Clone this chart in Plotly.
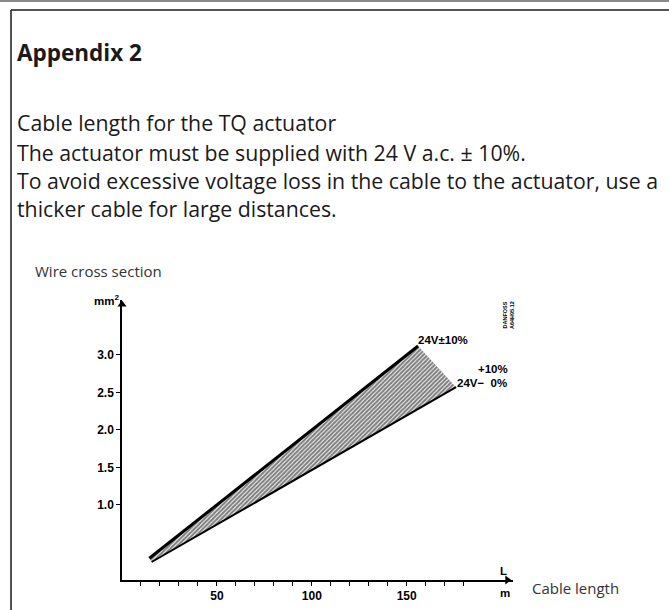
import plotly.graph_objects as go

W, H = 669, 610

# ---- data ----
upper_L = [14.4, 156.0]        # 24V ±10 %
upper_mm2 = [0.29, 3.12]
lower_L = [15.6, 176.0]        # 24V +10 % / -0 %
lower_mm2 = [0.24, 2.57]

x_minor_ticks = list(range(10, 190, 10))
x_tick_labels = {50: "50", 100: "100", 150: "150"}
y_ticks = [1.0, 1.5, 2.0, 2.5, 3.0]
y_tick_labels = ["1.0", "1.5", "2.0", "2.5", "3.0"]

X_MAX = 206.0
Y_MAX = 3.733


def px(x):
    return x / W


def py(y):
    return 1 - y / H


fig = go.Figure()

# hatched band between the two limit lines
band_x = upper_L + lower_L[::-1] + [upper_L[0]]
band_y = upper_mm2 + lower_mm2[::-1] + [upper_mm2[0]]
fig.add_trace(go.Scatter(
    x=band_x, y=band_y, mode="lines", fill="toself",
    line=dict(width=0, color="rgba(0,0,0,0)"),
    fillcolor="white",
    fillpattern=dict(shape="/", fgcolor="black", bgcolor="white", size=3, solidity=0.7),
    hoverinfo="skip", showlegend=False))

fig.add_trace(go.Scatter(x=upper_L, y=upper_mm2, mode="lines",
                         line=dict(color="black", width=3), showlegend=False))
fig.add_trace(go.Scatter(x=lower_L, y=lower_mm2, mode="lines",
                         line=dict(color="black", width=2), showlegend=False))

# axis arrowheads
fig.add_trace(go.Scatter(x=[0], y=[Y_MAX - 0.06], mode="markers", cliponaxis=False,
                         marker=dict(symbol="triangle-up", size=8, color="black"),
                         showlegend=False, hoverinfo="skip"))
fig.add_trace(go.Scatter(x=[X_MAX - 3], y=[0], mode="markers", cliponaxis=False,
                         marker=dict(symbol="triangle-right", size=8, color="black"),
                         showlegend=False, hoverinfo="skip"))

tick_font = dict(family="Liberation Sans, Arial", size=12, color="black", weight="bold")

fig.update_xaxes(
    domain=[px(122), px(513)], range=[0, X_MAX],
    showline=True, linecolor="black", linewidth=1.5,
    showgrid=False, zeroline=False,
    tickmode="array", tickvals=x_minor_ticks,
    ticktext=[x_tick_labels.get(v, "") for v in x_minor_ticks],
    ticks="outside", ticklen=4, tickwidth=1, tickcolor="black",
    tickfont=tick_font, fixedrange=True)
fig.update_yaxes(
    domain=[py(580), py(300)], range=[0, Y_MAX],
    showline=True, linecolor="black", linewidth=1.5,
    showgrid=False, zeroline=False,
    tickmode="array", tickvals=y_ticks, ticktext=y_tick_labels,
    ticks="outside", ticklen=4, tickwidth=1, tickcolor="black",
    tickfont=tick_font, fixedrange=True)

body_font = dict(family="Open Sans, sans-serif", size=21.3, color="#1a1a1a")
anns = []


def txt(x, y, text, font, xanchor="left", yanchor="middle", textangle=0):
    anns.append(dict(x=px(x), y=py(y), xref="paper", yref="paper", text=text,
                     showarrow=False, xanchor=xanchor, yanchor=yanchor,
                     font=font, textangle=textangle))


txt(15, 52, "<b>Appendix 2</b>", dict(family="Open Sans, sans-serif", size=22.5, color="#1a1a1a"))
txt(15, 123, "Cable length for the TQ actuator", body_font)
txt(15, 152, "The actuator must be supplied with 24 V a.c. ± 10%.", body_font)
txt(15, 181, "To avoid excessive voltage loss in the cable to the actuator, use a", body_font)
txt(15, 209, "thicker cable for large distances.", body_font)

small_font = dict(family="Open Sans, sans-serif", size=15, color="#333")
txt(33, 271, "Wire cross section", small_font)
txt(530, 588, "Cable length", small_font)

lab_font = dict(family="Liberation Sans, Arial", size=11.5, color="black", weight="bold")
txt(121, 300, "mm<sup>2</sup>", lab_font, xanchor="right")
txt(503, 571, "L", lab_font, xanchor="center")
txt(505, 593, "m", lab_font, xanchor="center")
txt(416, 340, "24V±10%", lab_font)
txt(510, 369, "+10%", lab_font, xanchor="right")
txt(455, 383, "24V−  0%", lab_font)
txt(508, 315, "DANFOSS<br>A64H95.12",
    dict(family="Liberation Sans, Arial", size=5.5, color="black", weight="bold"),
    xanchor="center", textangle=-90)

fig.update_layout(
    width=W, height=H, margin=dict(l=0, r=0, t=0, b=0),
    paper_bgcolor="white", plot_bgcolor="white",
    annotations=anns, showlegend=False,
    shapes=[
        dict(type="line", xref="paper", yref="paper", x0=0, x1=1, y0=py(1), y1=py(1),
             line=dict(color="#8a8a8a", width=2)),
        dict(type="line", xref="paper", yref="paper", x0=px(11), x1=1.01, y0=py(10), y1=py(10),
             line=dict(color="#1a1a1a", width=1.5)),
        dict(type="line", xref="paper", yref="paper", x0=px(11), x1=px(11), y0=py(10), y1=-0.01,
             line=dict(color="#1a1a1a", width=1.5)),
    ],
)

fig.write_html("out.html", config={"displayModeBar": False},
               post_script="document.body.style.margin='0';")
